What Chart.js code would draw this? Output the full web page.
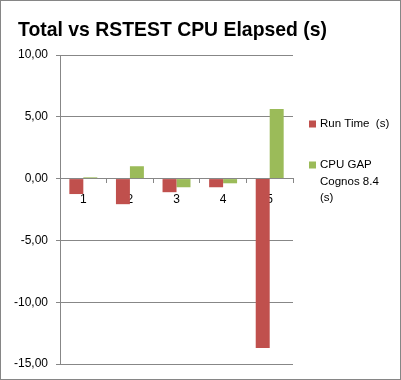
<!DOCTYPE html>
<html><head><meta charset="utf-8">
<script src="https://cdn.jsdelivr.net/npm/chart.js@4/dist/chart.umd.min.js"></script>
<style>html,body{margin:0;padding:0;background:#fff}#wrap{width:401px;height:380px;position:relative}</style>
</head><body><div id="wrap"><canvas id="c" width="401" height="380"></canvas></div>
<script>
const categories = ['1', '2', '3', '4', '5'];
const runTime = [-1.25, -2.07, -1.1, -0.7, -13.7];
const cpuGap = [0.1, 1.0, -0.7, -0.38, 5.63];
const seriesNames = ['Run Time  (s)', 'CPU GAP Cognos 8.4 (s)'];
const legendLines = [['Run Time  (s)'], ['CPU GAP', 'Cognos 8.4', '(s)']];
const yMin = -15, yMax = 10, yStep = 5;
const titleText = 'Total vs RSTEST CPU Elapsed (s)';

const RED = '#C0504D', GREEN = '#9BBB59', GRID = '#878787';

const framePlugin = {
  id: 'frame',
  beforeDraw(chart) {
    const ctx = chart.ctx;
    ctx.save(); ctx.fillStyle = '#fff'; ctx.fillRect(0, 0, chart.width, chart.height); ctx.restore();
  },
  afterDraw(chart) {
    const ctx = chart.ctx;
    ctx.save();
    ctx.strokeStyle = '#868686'; ctx.lineWidth = 1;
    ctx.strokeRect(0.5, 0.5, chart.width - 1, chart.height - 1);
    // title
    ctx.fillStyle = '#000';
    ctx.font = 'bold 21px "Liberation Sans", Arial, sans-serif';
    ctx.textBaseline = 'alphabetic';
    ctx.textAlign = 'left';
    ctx.fillText(titleText, 18, 36, 309);
    // legend
    const area = chart.chartArea;
    const lx = area.right + 16;
    const starts = [124, 165];
    ctx.font = '11.5px "Liberation Sans", Arial, sans-serif';
    ctx.textBaseline = 'middle';
    chart.data.datasets.forEach((ds, i) => {
      const y0 = starts[i];
      ctx.fillStyle = ds.backgroundColor;
      ctx.fillRect(lx, y0 - 3.5, 7, 7);
      ctx.fillStyle = '#000';
      legendLines[i].forEach((t, j) => ctx.fillText(t, lx + 11, y0 + j * 16.5));
    });
    ctx.restore();
  }
};

new Chart(document.getElementById('c'), {
  type: 'bar',
  data: {
    labels: categories,
    datasets: [
      { label: seriesNames[0], data: runTime, backgroundColor: RED, categoryPercentage: 0.6, barPercentage: 1 },
      { label: seriesNames[1], data: cpuGap, backgroundColor: GREEN, categoryPercentage: 0.6, barPercentage: 1 }
    ]
  },
  options: {
    responsive: false, animation: false, devicePixelRatio: 1,
    layout: { padding: { left: 6, right: 108, top: 55, bottom: 16 } },
    plugins: {
      legend: { display: false },
      tooltip: { enabled: false },
      title: { display: false }
    },
    scales: {
      x: {
        position: { y: 0 }, offset: true, z: 1,
        grid: { drawOnChartArea: false, drawTicks: true, tickLength: 4, color: GRID, offset: true },
        border: { color: GRID },
        ticks: { padding: 10, color: '#000', font: { family: '"Liberation Sans", Arial, sans-serif', size: 12 } }
      },
      y: {
        min: yMin, max: yMax,
        grid: { color: GRID, tickLength: 4, drawTicks: true },
        border: { color: GRID },
        ticks: {
          stepSize: yStep, padding: 8, color: '#000',
          font: { family: '"Liberation Sans", Arial, sans-serif', size: 12 },
          callback: v => v.toFixed(2).replace('.', ',')
        }
      }
    }
  },
  plugins: [framePlugin]
});
</script></body></html>
